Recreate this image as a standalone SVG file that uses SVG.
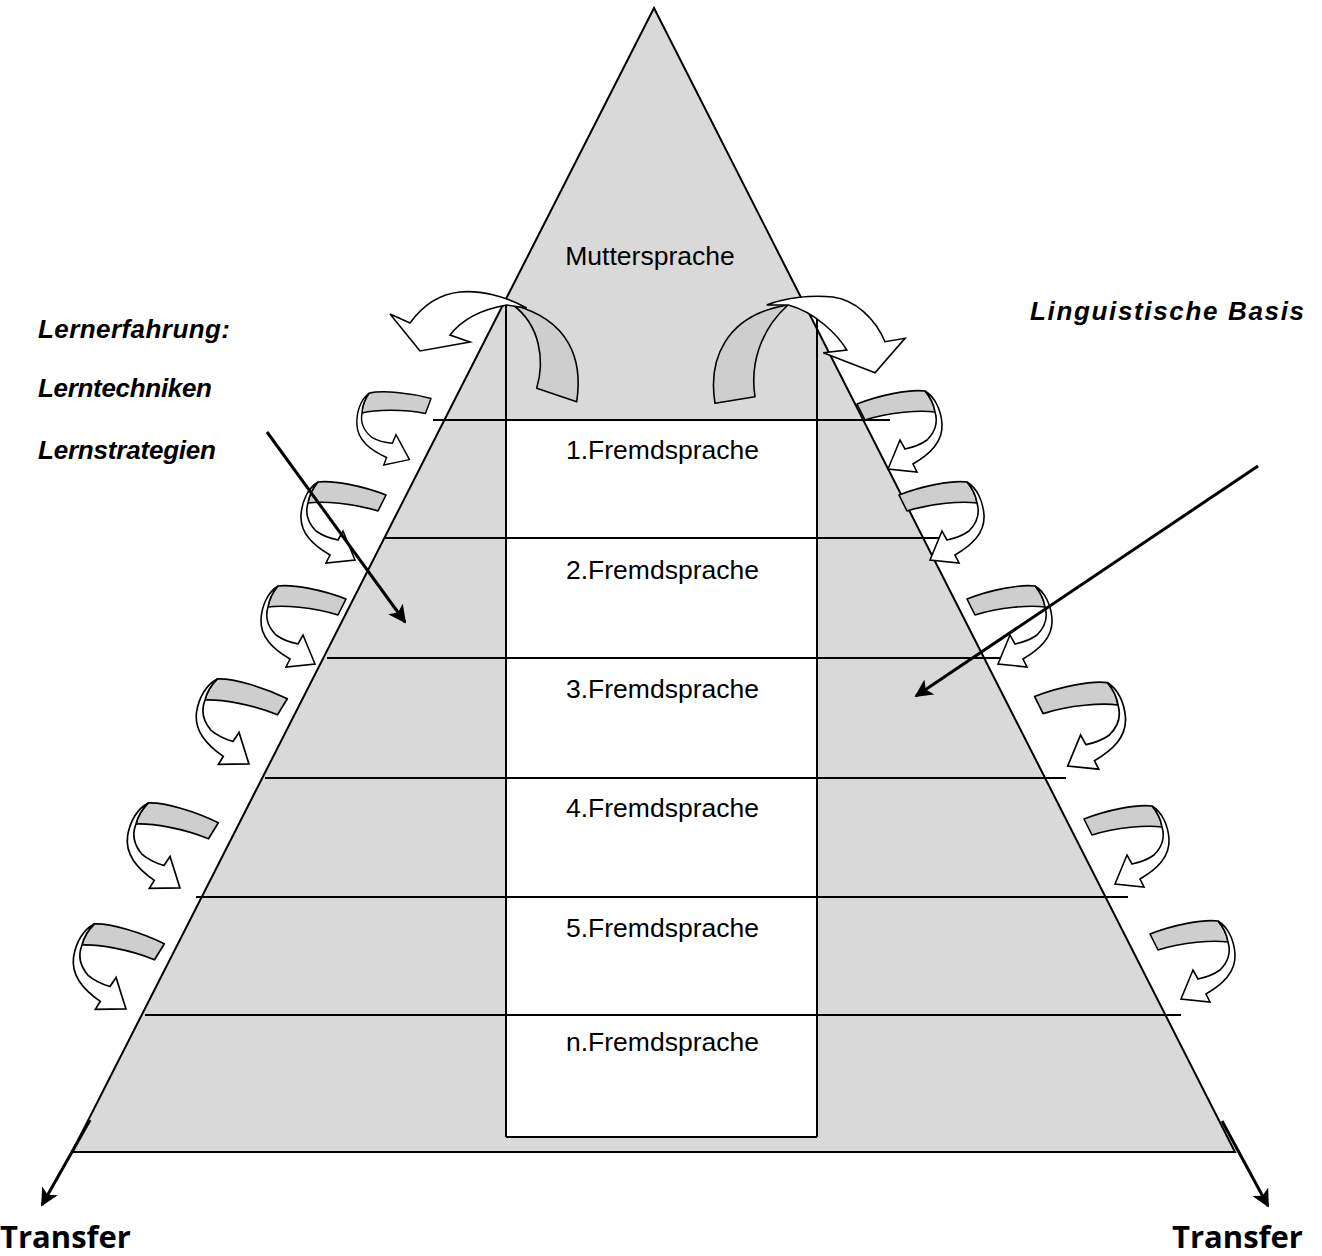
<svg xmlns="http://www.w3.org/2000/svg" width="1322" height="1256" viewBox="0 0 1322 1256">
<style>
.ln{stroke:#000;stroke-width:2;fill:none}
.band{fill:#cecece;stroke:#000;stroke-width:1.6;stroke-linejoin:round}
.body{fill:#fff;stroke:#000;stroke-width:1.6;stroke-linejoin:miter}
.lbl{font-family:"Liberation Sans",Arial,sans-serif;font-size:26.5px;fill:#000}
.side{font-family:"Liberation Sans",Arial,sans-serif;font-size:26px;font-weight:bold;font-style:italic;fill:#000}
.tr{font-family:"Open Sans","Liberation Sans",sans-serif;font-size:31px;font-weight:bold;fill:#000}
.arr{stroke:#000;stroke-width:3;fill:none}
</style>
<defs>
<marker id="ah" viewBox="0 0 10 10" refX="9" refY="5" markerWidth="6" markerHeight="6" markerUnits="strokeWidth" orient="auto">
<path d="M0,0 L10,5 L0,10 L2.5,5 Z" fill="#000"/>
</marker>
<g id="curlR">
<path class="band" d="M-78,-8 C -55,-17 -25,-23 -10,-21 C -4,-14 -1,-7 0,0 C -15,-2 -45,0 -70,8 Z"/>
<path class="body" d="M0,0 C 3,10 0,20 -8,28 C -15,33 -25,36 -30,37 L -35,28 L -47,57 L -18,60 L -22,52 C -5,42 8,30 7,12 C 6,-2 0,-15 -10,-21 C -4,-14 -1,-7 0,0 Z"/>
</g>
</defs>
<g id="pyramid">
<polygon points="654,8 72,1152 1235,1152" fill="#d9d9d9" stroke="#000" stroke-width="2" stroke-linejoin="miter"/>
<rect x="506" y="420" width="311" height="717" fill="#fff"/>
</g>
<g id="levels">
<line class="ln" x1="433" y1="420" x2="890" y2="420"/>
<line class="ln" x1="385" y1="538" x2="940" y2="538"/>
<line class="ln" x1="327" y1="658" x2="1000" y2="658"/>
<line class="ln" x1="265" y1="778" x2="1066" y2="778"/>
<line class="ln" x1="196" y1="897" x2="1128" y2="897"/>
<line class="ln" x1="145" y1="1015" x2="1181" y2="1015"/>
<line class="ln" x1="506" y1="305" x2="506" y2="1137"/>
<line class="ln" x1="817" y1="305" x2="817" y2="1137"/>
<line class="ln" x1="506" y1="1137" x2="817" y2="1137"/>
</g>
<g id="node-texts">
<text class="lbl" x="650" y="265" text-anchor="middle">Muttersprache</text>
<text class="lbl" x="566" y="459">1.Fremdsprache</text>
<text class="lbl" x="566" y="579">2.Fremdsprache</text>
<text class="lbl" x="566" y="698">3.Fremdsprache</text>
<text class="lbl" x="566" y="817">4.Fremdsprache</text>
<text class="lbl" x="566" y="937">5.Fremdsprache</text>
<text class="lbl" x="566" y="1051">n.Fremdsprache</text>
</g>
<g id="connectors">
<g id="top-left-arrow">
<path class="band" d="M576.7,401.7 C 583,360 570,320 513,305 C 540,325 545,360 536.7,388.3 Z"/>
<path class="body" d="M526.7,308 C 505,296 480,290 460,292 C 440,294 423,305 410,323 L 390,314 L 420,351 L 470,342 L 450,335 C 460,322 478,310 506.7,305 Z"/>
</g>
<g id="top-right-arrow">
<path class="band" d="M715,403.3 C 708,360 725,315 788,305 C 760,330 750,365 755,396.7 Z"/>
<path class="body" d="M766.7,305 C 785,298 810,295 833,297 C 855,300 875,318 885,341.7 L 905,338.3 L 875,372.7 L 823.3,352.7 L 846.7,350 C 838,335 815,312 788.3,305 Z"/>
</g>
<use href="#curlR" transform="translate(362,413) rotate(-6) scale(-0.9,0.9)"/>
<use href="#curlR" transform="translate(308,503) scale(-1,1)"/>
<use href="#curlR" transform="translate(268,607) scale(-1,1)"/>
<use href="#curlR" transform="translate(205,700) rotate(5) scale(-1.05,1.05)"/>
<use href="#curlR" transform="translate(136,824) rotate(5) scale(-1.05,1.05)"/>
<use href="#curlR" transform="translate(82,945) rotate(5) scale(-1.05,1.05)"/>
<use href="#curlR" transform="translate(935,412)"/>
<use href="#curlR" transform="translate(977,503)"/>
<use href="#curlR" transform="translate(1045,607)"/>
<use href="#curlR" transform="translate(1118,705) scale(1.07)"/>
<use href="#curlR" transform="translate(1162,827)"/>
<use href="#curlR" transform="translate(1228,942)"/>
<line class="arr" x1="267" y1="432" x2="405" y2="622" marker-end="url(#ah)"/>
<line class="arr" x1="1258" y1="466" x2="916" y2="696" marker-end="url(#ah)"/>
<line class="arr" x1="90" y1="1120" x2="42" y2="1205" marker-end="url(#ah)"/>
<line class="arr" x1="1222" y1="1121" x2="1268" y2="1206" marker-end="url(#ah)"/>
</g>
<g id="side-labels">
<text class="side" x="38" y="338" textLength="192" lengthAdjust="spacing">Lernerfahrung:</text>
<text class="side" x="38" y="397" textLength="174" lengthAdjust="spacing">Lerntechniken</text>
<text class="side" x="38" y="459" textLength="178" lengthAdjust="spacing">Lernstrategien</text>
<text class="side" x="1030" y="320" textLength="274" lengthAdjust="spacing">Linguistische Basis</text>
<text class="tr" x="0" y="1248">Transfer</text>
<text class="tr" x="1172" y="1248">Transfer</text>
</g>
</svg>
